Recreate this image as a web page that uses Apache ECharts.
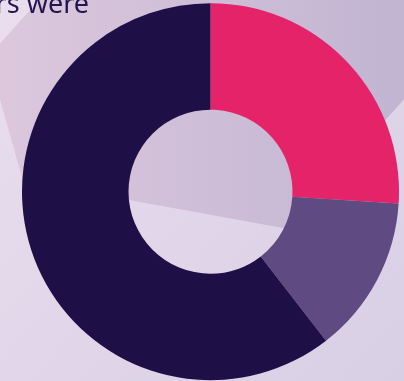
<!DOCTYPE html>
<html>
<head>
<meta charset="utf-8">
<script src="https://cdn.jsdelivr.net/npm/echarts@6/dist/echarts.min.js"></script>
<style>
  html, body { margin: 0; padding: 0; }
  #chart { width: 404px; height: 381px; }
</style>
</head>
<body>
<div id="chart"></div>
<script>
const categories = ['Segment A', 'Segment B', 'Segment C']
const values = [26, 13.5, 60.5]
const colors = ['#e42368', '#604a82', '#1e0f46']

const chart = echarts.init(document.getElementById('chart'))

chart.setOption({
  animation: false,
  graphic: [
    {
      type: 'rect',
      z: -10,
      shape: { x: 0, y: 0, width: 404, height: 381 },
      style: {
        fill: new echarts.graphic.LinearGradient(0, 0, 1, 1, [
          { offset: 0, color: '#eadeee' },
          { offset: 1, color: '#d8cfe5' },
        ]),
      },
    },
    {
      // darker backdrop shape
      type: 'polygon',
      z: -9,
      shape: {
        points: [[39, 0], [-12, 57], [23, 181], [129, 200], [283, 228], [330, 235], [360, 148], [440, 60], [440, -10], [39, -10]],
      },
      style: {
        fill: new echarts.graphic.LinearGradient(0, 0, 1, 0, [
          { offset: 0, color: '#ddc8dd' },
          { offset: 1, color: '#bfb3d1' },
        ]),
      },
    },
    {
      type: 'text',
      z: 10,
      x: 89,
      y: 19,
      style: {
        text: 'rs were',
        font: '27px "Noto Sans"',
        fill: '#231650',
        align: 'right',
        verticalAlign: 'bottom',
      },
    },
  ],
  series: [
    {
      type: 'pie',
      center: [210.5, 191.7],
      radius: [82, 188.5],
      startAngle: 90,
      clockwise: true,
      label: { show: false },
      labelLine: { show: false },
      emphasis: { disabled: true },
      itemStyle: { borderWidth: 0 },
      data: categories.map((name, i) => ({
        name,
        value: values[i],
        itemStyle: { color: colors[i] },
      })),
    },
  ],
})
</script>
</body>
</html>
